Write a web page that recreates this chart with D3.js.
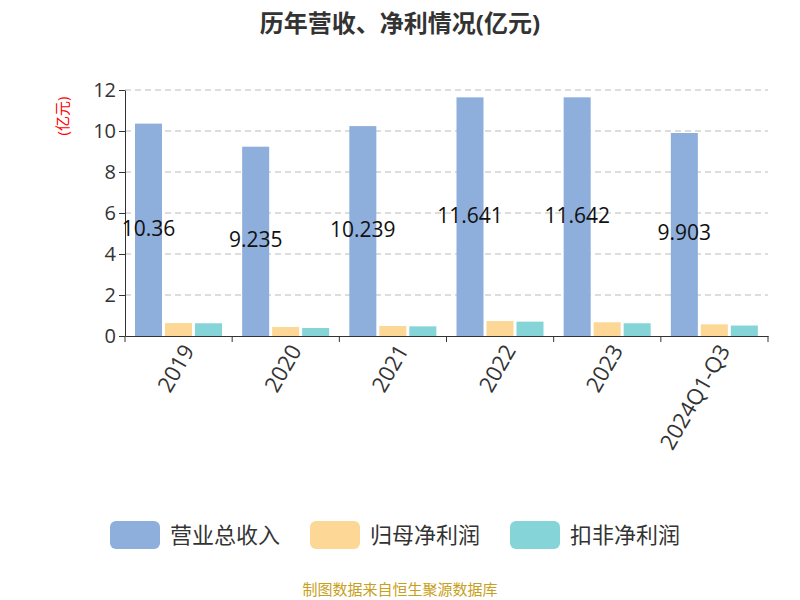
<!DOCTYPE html>
<html><head><meta charset="utf-8">
<script src="https://cdn.jsdelivr.net/npm/d3@7"></script>
<style>body{margin:0;background:#fff}text{font-family:"Open Sans","Noto Sans CJK SC",sans-serif}</style>
</head><body><svg id="c" width="800" height="600"></svg>
<script>
const categories=["2019","2020","2021","2022","2023","2024Q1-Q3"];
const revenue=[10.36,9.235,10.239,11.641,11.642,9.903];
const netProfit=[0.63,0.44,0.49,0.73,0.67,0.57];
const deductedProfit=[0.62,0.39,0.47,0.70,0.62,0.51];
const seriesNames=["营业总收入","归母净利润","扣非净利润"];
const colors=["#8eaedb","#fdd796","#84d4d8"];
const yTicks=[0,2,4,6,8,10,12];
const svg=d3.select("#c");
const m={l:125,r:768,t:90,b:336};
const x=d3.scaleBand().domain(categories).range([m.l,m.r]);
const y=d3.scaleLinear().domain([0,12]).range([m.b,m.t]);
svg.append("text").attr("x",400).attr("y",32).attr("text-anchor","middle").attr("font-size",24).attr("font-weight","bold").attr("fill","#333").text("历年营收、净利情况(亿元)");
svg.append("g").selectAll("line").data(yTicks.slice(1)).join("line").attr("x1",m.l).attr("x2",m.r).attr("y1",d=>y(d)).attr("y2",d=>y(d)).attr("stroke","#bbb").attr("stroke-dasharray","6,4");
const ya=svg.append("g").attr("transform",`translate(${m.l},0)`).call(d3.axisLeft(y).tickValues(yTicks).tickSize(6).tickSizeOuter(0));
ya.selectAll("text").attr("font-size",20).attr("fill","#333");ya.selectAll("line,path").attr("stroke","#333");
svg.append("text").attr("transform","translate(68,116) rotate(-90)").attr("text-anchor","middle").attr("font-size",15).attr("fill","red").text("(亿元)");
const data=[revenue,netProfit,deductedProfit];
const bw=27,gap=3;
data.forEach((arr,si)=>{
 svg.append("g").selectAll("rect").data(arr).join("rect")
  .attr("x",(d,i)=>x(categories[i])+10+si*(bw+gap)).attr("width",bw)
  .attr("y",d=>y(d)).attr("height",d=>y(0)-y(d)).attr("fill",colors[si]);
});
svg.append("g").selectAll("text").data(revenue).join("text")
 .attr("x",(d,i)=>x(categories[i])+10+bw/2).attr("y",d=>y(d/2)+6)
 .attr("text-anchor","middle").attr("font-size",21).attr("fill","#111").text(d=>d);
const xa=svg.append("g").attr("transform",`translate(0,${m.b})`).call(d3.axisBottom(x).tickSize(6).tickSizeOuter(0));
xa.selectAll("line,path").attr("stroke","#333");
xa.selectAll(".tick line").attr("transform",`translate(${-x.bandwidth()/2},0)`);
xa.append("line").attr("x1",m.r).attr("x2",m.r).attr("y1",0).attr("y2",6).attr("stroke","#333");
xa.selectAll("text").attr("font-size",22).attr("fill","#333").attr("text-anchor","end")
 .attr("transform","translate(2,6) rotate(-60)").attr("dy","0.35em").attr("dx","0");
const lx=[110,310,510];
seriesNames.forEach((n,i)=>{
 svg.append("rect").attr("x",lx[i]).attr("y",521).attr("width",50).attr("height",28).attr("rx",6).attr("fill",colors[i]);
 svg.append("text").attr("x",lx[i]+60).attr("y",543).attr("font-size",22).attr("fill","#333").text(n);
});
svg.append("text").attr("x",400).attr("y",595).attr("text-anchor","middle").attr("font-size",15).attr("fill","#c8a020").text("制图数据来自恒生聚源数据库");
</script></body></html>
